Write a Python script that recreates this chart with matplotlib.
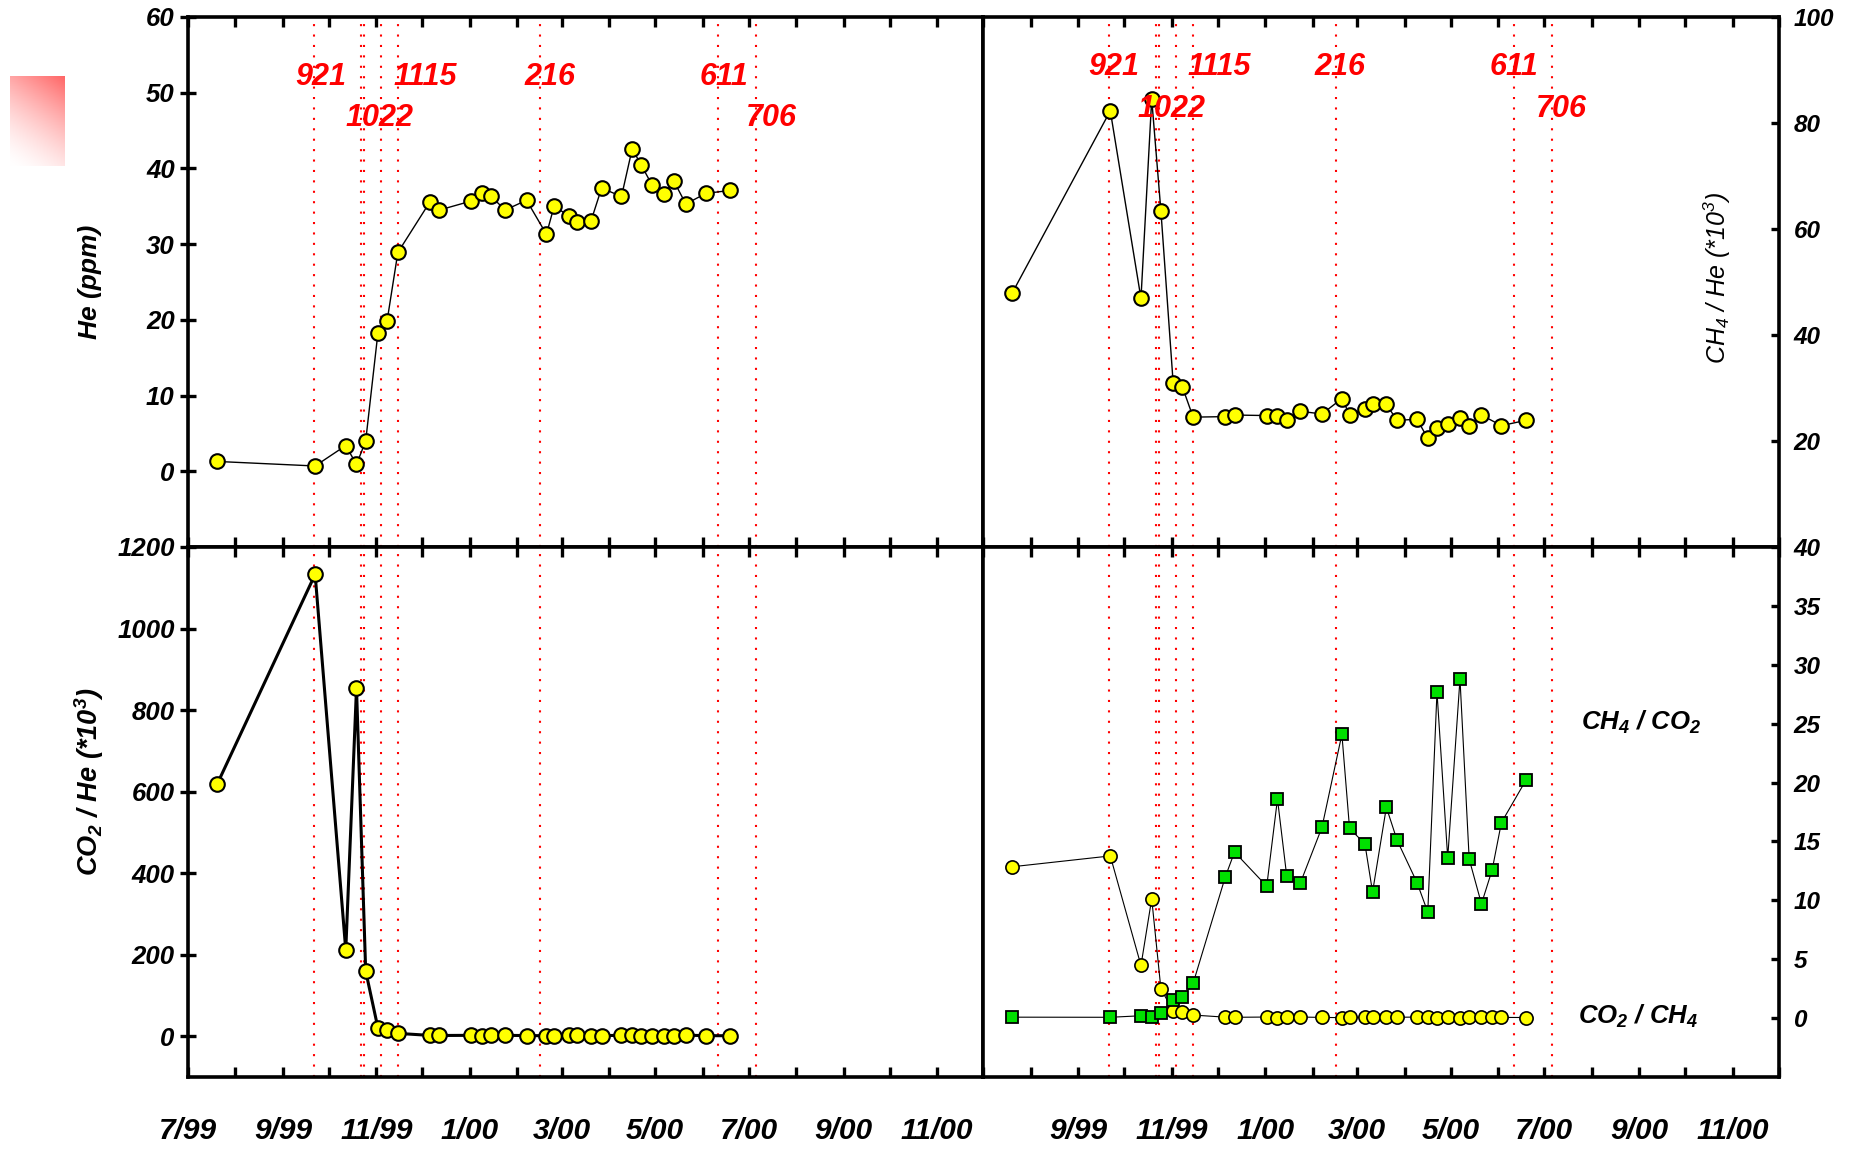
import numpy as np
import matplotlib
matplotlib.use("Agg")
import matplotlib.pyplot as plt
import matplotlib.dates as mdates
from datetime import datetime

# ---------------------------------------------------------------- data
sample_dates = [
    "1999-07-20", "1999-09-22", "1999-10-12", "1999-10-19", "1999-10-25",
    "1999-11-02", "1999-11-08", "1999-11-15", "1999-12-06", "1999-12-12",
    "2000-01-02", "2000-01-09", "2000-01-15", "2000-01-24", "2000-02-07",
    "2000-02-20", "2000-02-25", "2000-03-06", "2000-03-11", "2000-03-20",
    "2000-03-27", "2000-04-09", "2000-04-16", "2000-04-22", "2000-04-29",
    "2000-05-07", "2000-05-13", "2000-05-21", "2000-05-28", "2000-06-03",
    "2000-06-19",
]

# He concentration (ppm); no He measurement on 2000-05-28
he_ppm = [1.3, 0.7, 3.4, 0.9, 4.0, 18.3, 19.9, 28.9, 35.6, 34.5,
          35.7, 36.7, 36.3, 34.5, 35.8, 31.3, 35.0, 33.7, 32.9, 33.0,
          37.4, 36.3, 42.6, 40.4, 37.8, 36.6, 38.4, 35.3, np.nan, 36.7,
          37.1]

# CH4 / He (*10^3)
ch4_he = [47.9, 82.3, 46.9, 84.5, 63.4, 30.9, 30.2, 24.5, 24.6, 24.9,
          24.8, 24.8, 23.9, 25.6, 25.1, 28.0, 25.0, 26.1, 27.0, 26.9,
          23.9, 24.1, 20.5, 22.4, 23.2, 24.4, 22.9, 24.9, np.nan, 22.9,
          23.9]

# CO2 / He (*10^3)
co2_he = [618, 1133, 211, 854, 160, 20, 16, 7, 2.0, 1.8,
          2.2, 1.3, 2.0, 2.2, 1.6, 1.2, 1.5, 1.8, 2.5, 1.5,
          1.6, 2.1, 2.3, 0.8, 1.7, 0.9, 1.7, 2.6, np.nan, 1.4,
          1.2]

# CH4 / CO2 and CO2 / CH4
ch4_co2 = [0.08, 0.07, 0.2, 0.1, 0.4, 1.5, 1.8, 2.95, 12.0, 14.1,
           11.2, 18.6, 12.1, 11.5, 16.2, 24.1, 16.1, 14.8, 10.7, 17.9,
           15.1, 11.5, 9.0, 27.7, 13.6, 28.8, 13.5, 9.7, 12.6, 16.6,
           20.2]
co2_ch4 = [12.85, 13.77, 4.47, 10.13, 2.48, 0.6, 0.5, 0.26, 0.08, 0.07,
           0.09, 0.05, 0.08, 0.09, 0.06, 0.04, 0.06, 0.07, 0.09, 0.06,
           0.07, 0.09, 0.11, 0.04, 0.07, 0.03, 0.07, 0.10, 0.08, 0.06,
           0.05]

# event markers (dotted red lines) and their labels
event_dates = ["1999-09-21", "1999-10-22", "1999-10-24", "1999-11-04",
               "1999-11-15", "2000-02-16", "2000-06-11", "2000-07-06"]
event_labels = ["921", "1022", "1115", "216", "611", "706"]

# axis ticks
month_ticks = ["1999-%02d-01" % m for m in range(7, 13)] + \
              ["2000-%02d-01" % m for m in range(1, 13)]
month_labels = ["7/99", "", "9/99", "", "11/99", "", "1/00", "", "3/00", "",
                "5/00", "", "7/00", "", "9/00", "", "11/00", ""]
he_ticks = [0, 10, 20, 30, 40, 50, 60]
ch4_he_ticks = [20, 40, 60, 80, 100]
co2_he_ticks = [0, 200, 400, 600, 800, 1000, 1200]
ratio_ticks = [0, 5, 10, 15, 20, 25, 30, 35, 40]

# ---------------------------------------------------------------- style
plt.rcParams["font.family"] = ["Liberation Sans", "DejaVu Sans"]
plt.rcParams["font.weight"] = "bold"
plt.rcParams["font.style"] = "italic"
plt.rcParams["axes.labelweight"] = "bold"


def d(s):
    return datetime.strptime(s, "%Y-%m-%d")


t = np.array([mdates.date2num(d(s)) for s in sample_dates])
ev = [d(s) for s in event_dates]
ticks = [d(s) for s in month_ticks]
xmin, xmax = d("1999-07-01"), d("2000-12-01")

W, H = 1854, 1152
fig = plt.figure(figsize=(W / 100, H / 100), dpi=100)
L, M, R = 188 / W, 983 / W, 1779 / W
T, MID, B = 1 - 17 / H, 1 - 547 / H, 1 - 1077 / H

ax_tl = fig.add_axes([L, MID, M - L, T - MID])
ax_tr = fig.add_axes([M, MID, R - M, T - MID])
ax_bl = fig.add_axes([L, B, M - L, MID - B])
ax_br = fig.add_axes([M, B, R - M, MID - B])

SPW = 2.6
TKW = 2.4
YELLOW = "#ffff00"
GREEN = "#00e000"


def frame(ax, left_side, bottom_row):
    for sp in ax.spines.values():
        sp.set_linewidth(SPW)
    ax.set_xlim(xmin, xmax)
    ax.set_xticks(ticks)
    labels = list(month_labels) if bottom_row else [""] * len(ticks)
    if not left_side:
        labels[0] = ""
    ax.set_xticklabels(labels)
    ax.tick_params(axis="x", which="both", top=True, bottom=True,
                   direction="in", length=7.2, width=TKW,
                   labelsize=21.5, pad=29)
    if left_side:
        ax.tick_params(axis="y", left=True, right=False, direction="inout",
                       length=12, width=TKW, labelsize=18.5, pad=3.5)
    else:
        ax.yaxis.tick_right()
        ax.tick_params(axis="y", left=False, right=True, direction="in",
                       length=5.5, width=TKW, labelsize=17.5, pad=10.5,
                       labelleft=False, labelright=True)
    for e in ev:
        ax.axvline(e, color="red", lw=1.5, ls=(0, (1, 4)), zorder=1)


for ax, ls, br in [(ax_tl, True, False), (ax_tr, False, False),
                   (ax_bl, True, True), (ax_br, False, True)]:
    frame(ax, ls, br)


def series(ax, y, marker, face, ms, mew, lw):
    y = np.asarray(y, dtype=float)
    ok = ~np.isnan(y)
    ax.plot(t[ok], y[ok], color="black", lw=lw, zorder=2)
    ax.plot(t[ok], y[ok], ls="none", marker=marker, ms=ms,
            mfc=face, mec="black", mew=mew, zorder=3)


# He
series(ax_tl, he_ppm, "o", YELLOW, 10.5, 1.5, 1.0)
ax_tl.set_ylim(-10, 60)
ax_tl.set_yticks(he_ticks)
ax_tl.set_yticklabels([str(v) for v in he_ticks])
ax_tl.set_ylabel("He (ppm)", fontsize=19, fontweight="bold")
ax_tl.yaxis.set_label_coords(-0.108, 0.5)

# CH4 / He
series(ax_tr, ch4_he, "o", YELLOW, 10.5, 1.5, 1.0)
ax_tr.set_ylim(0, 100)
ax_tr.set_yticks(ch4_he_ticks)
ax_tr.set_yticklabels([str(v) for v in ch4_he_ticks])
ax_tr.text(0.922, 0.508,
           r"CH$_{\mathdefault{4}}$ / He (*10$^{\mathdefault{3}}$)",
           transform=ax_tr.transAxes, rotation=90, ha="center", va="center",
           fontsize=18, fontweight="normal", fontstyle="italic")

# CO2 / He
series(ax_bl, co2_he, "o", YELLOW, 10.5, 1.5, 2.2)
ax_bl.set_ylim(-100, 1200)
ax_bl.set_yticks(co2_he_ticks)
ax_bl.set_yticklabels([str(v) for v in co2_he_ticks])
ax_bl.text(-0.1245, 0.558,
           r"CO$_{\mathdefault{2}}$ / He (*10$^{\mathdefault{3}}$)",
           transform=ax_bl.transAxes, rotation=90, ha="center", va="center",
           fontsize=19.5)

# CH4 / CO2 and CO2 / CH4
series(ax_br, co2_ch4, "o", YELLOW, 9.5, 1.2, 0.8)
series(ax_br, ch4_co2, "s", GREEN, 8, 1.3, 0.8)
ax_br.set_ylim(-5, 40)
ax_br.set_yticks(ratio_ticks)
ax_br.set_yticklabels([str(v) for v in ratio_ticks])
ax_br.text(0.827, 0.67, r"CH$_{\mathdefault{4}}$ / CO$_{\mathdefault{2}}$",
           transform=ax_br.transAxes, ha="center", va="center", fontsize=18.5)
ax_br.text(0.823, 0.115, r"CO$_{\mathdefault{2}}$ / CH$_{\mathdefault{4}}$",
           transform=ax_br.transAxes, ha="center", va="center", fontsize=18.5)

# event labels above the top panels
label_pos_left = [("1999-09-26", 52.1), ("1999-11-03", 46.6),
                  ("1999-12-03", 52.1), ("2000-02-22", 52.1),
                  ("2000-06-15", 52.1), ("2000-07-16", 46.6)]
label_pos_right = [("1999-09-24", 90.5), ("1999-11-01", 82.6),
                   ("1999-12-02", 90.5), ("2000-02-19", 90.5),
                   ("2000-06-11", 90.5), ("2000-07-12", 82.6)]
for ax, pos in [(ax_tl, label_pos_left), (ax_tr, label_pos_right)]:
    for lab, (xs, yv) in zip(event_labels, pos):
        ax.text(d(xs), yv, lab, color="red", fontsize=22,
                ha="center", va="center", zorder=5)

# shaded corner swatch
gax = fig.add_axes([10 / W, 1 - 166 / H, 54 / W, 90 / H])
u = np.linspace(0, 1, 60)[None, :]
v = np.linspace(1, 0, 100)[:, None]
inten = np.clip(0.3 * u + 0.7 * v, 0, 1) ** 1.5
img = np.ones((100, 60, 3))
img[..., 1] = 1 - 0.6 * inten
img[..., 2] = 1 - 0.6 * inten
gax.imshow(img, aspect="auto", interpolation="bilinear")
gax.axis("off")

fig.savefig("out.png", dpi=100)
